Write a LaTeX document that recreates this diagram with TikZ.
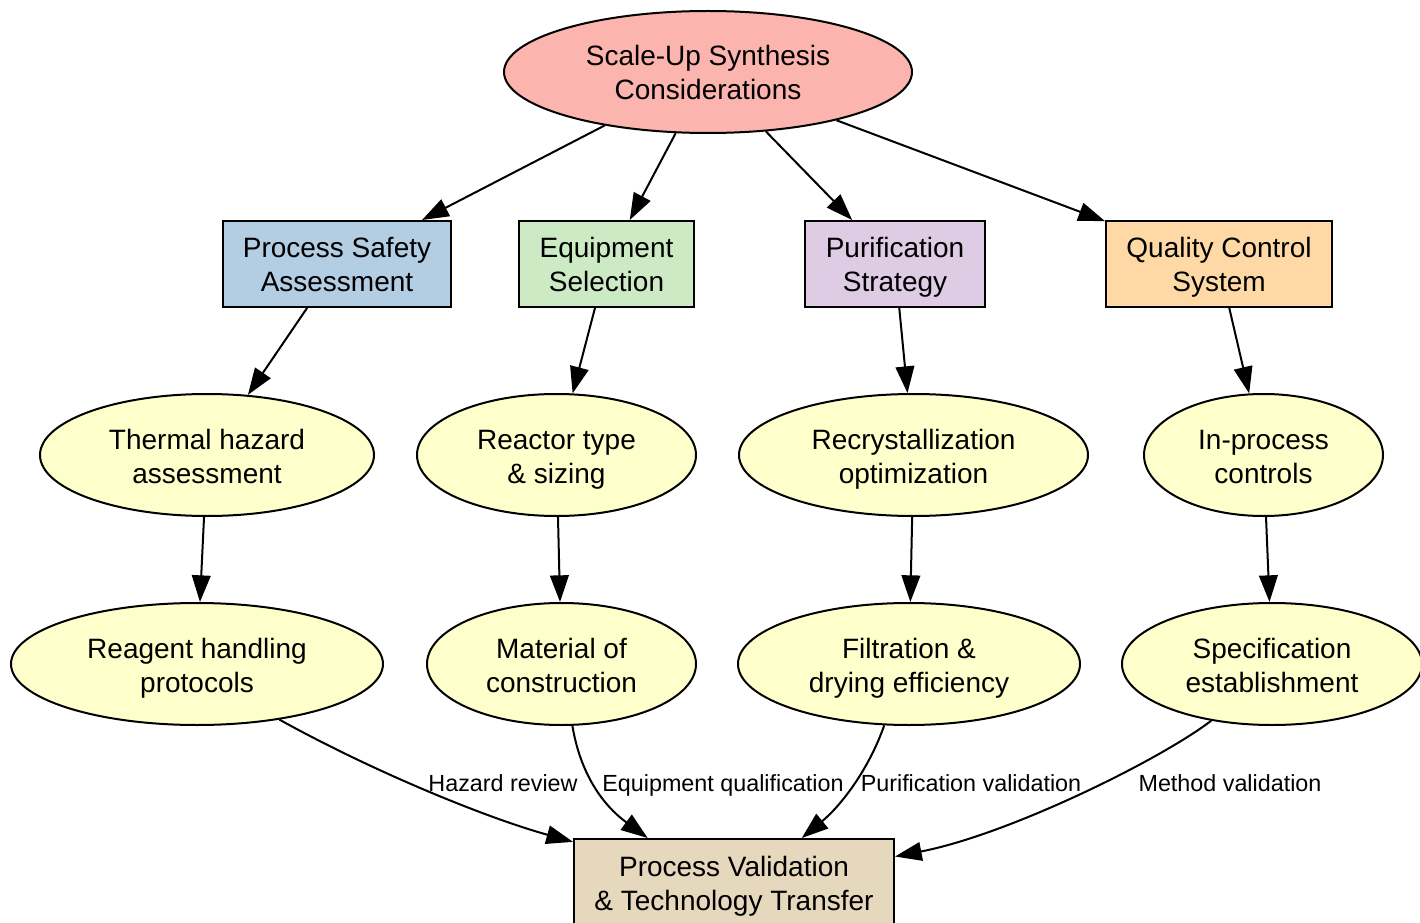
\documentclass[tikz,border=0pt]{standalone}
\usepackage{fontspec}
\setmainfont{Liberation Sans}
\usetikzlibrary{shapes.geometric,arrows.meta}
\definecolor{cRoot}{HTML}{FBB4AE}
\definecolor{cSafety}{HTML}{B3CDE3}
\definecolor{cEquip}{HTML}{CCEBC5}
\definecolor{cPurif}{HTML}{DECBE4}
\definecolor{cQC}{HTML}{FED9A6}
\definecolor{cLeaf}{HTML}{FFFFCC}
\definecolor{cBot}{HTML}{E5D8BD}
\begin{document}
\begin{tikzpicture}[x=0.75pt,y=-0.75pt,line width=1.5pt,>={Triangle[length=20pt,width=14pt]},
        font=\fontsize{21}{25.5}\selectfont,
        every node/.style={text height=43pt,text depth=1pt},
        box/.style={draw,rectangle,align=center,inner sep=0pt,minimum height=64.5pt},
        oval/.style={draw,ellipse,align=center,inner sep=0pt,minimum height=91.5pt,fill=cLeaf},
        lab/.style={font=\fontsize{17.5}{20}\selectfont,inner sep=0pt,text height=12.7pt,text depth=0pt}]
            \def\W{1420} \def\H{923}
            \useasboundingbox (0,0) rectangle (\W,\H);
            \node[oval,fill=cRoot,minimum width=306pt] (root) at (708,72) {Scale-Up Synthesis\\Considerations};
            \node[box,fill=cSafety,minimum width=171pt] (psa) at (337,264) {Process Safety\\Assessment};
            \node[box,fill=cEquip,minimum width=131.25pt] (equip) at (606.5,264) {Equipment\\Selection};
            \node[box,fill=cPurif,minimum width=135pt] (purif) at (895,264) {Purification\\Strategy};
            \node[box,fill=cQC,minimum width=169.5pt] (qc) at (1219,264) {Quality Control\\System};
            \node[oval,minimum width=250.5pt] (thermal) at (207,455) {Thermal hazard\\assessment};
            \node[oval,minimum width=209.25pt] (reactor) at (556.5,455) {Reactor type\\\& sizing};
            \node[oval,minimum width=261.75pt] (recryst) at (913.5,455) {Recrystallization\\optimization};
            \node[oval,minimum width=179.25pt] (inproc) at (1263.5,455) {In-process\\controls};
            \node[oval,minimum width=279pt] (reagent) at (197,664) {Reagent handling\\protocols};
            \node[oval,minimum width=201.75pt] (material) at (561.5,664) {Material of\\construction};
            \node[oval,minimum width=256.5pt] (filt) at (909,664) {Filtration \&\\drying efficiency};
            \node[oval,minimum width=225pt] (spec) at (1272,664) {Specification\\establishment};
            \node[box,fill=cBot,minimum width=240pt] (valid) at (734,882) {Process Validation\\\& Technology Transfer};
            %===========================================
            \foreach \a/\b in {root/psa,root/equip,root/purif,root/qc,psa/thermal,equip/reactor,purif/recryst,qc/inproc,
                    thermal/reagent,reactor/material,recryst/filt,inproc/spec}
                \draw[->] (\a) -- (\b);
            \draw[->] (reagent.-34) .. controls +(90,50) and +(-90,-25) .. (valid.166);
            \draw[->] (material.-80) .. controls +(8,48) and +(-45,-33) .. (valid.153);
            \draw[->] (filt.248) .. controls +(-15,43) and +(40,-33) .. (valid.33);
            \draw[->] (spec.223) .. controls +(-51,39) and +(114,-22) .. (valid.9);
            \node[lab] (lHaz) at (503,783) {Hazard review};
            \node[lab] (lEquip) at (723,783) {Equipment qualification};
            \node[lab] (lPurif) at (971,783) {Purification validation};
            \node[lab] (lMeth) at (1230,783) {Method validation};
    \end{tikzpicture}
\end{document}
